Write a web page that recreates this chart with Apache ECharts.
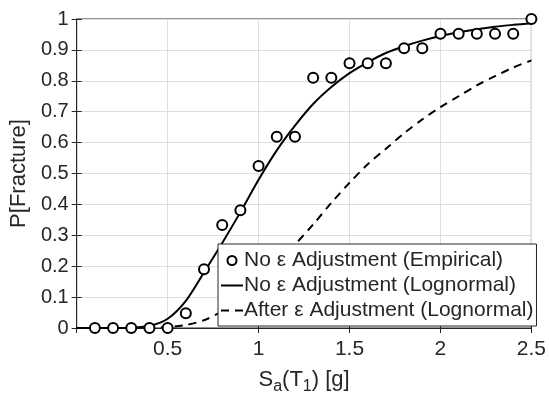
<!DOCTYPE html>
<html>
<head>
<meta charset="utf-8">
<script src="https://cdn.jsdelivr.net/npm/echarts@6/dist/echarts.min.js"></script>
<style>
  html, body { margin: 0; padding: 0; background: #fff; }
  #chart { width: 549px; height: 400px; }
</style>
</head>
<body>
<div id="chart"></div>
<script>
// 经验点 (Sa 与断裂概率)
const empX = [0.1, 0.2, 0.3, 0.4, 0.5, 0.6, 0.7, 0.8, 0.9, 1.0, 1.1, 1.2, 1.3,
  1.4, 1.5, 1.6, 1.7, 1.8, 1.9, 2.0, 2.1, 2.2, 2.3, 2.4, 2.5];
const empY = [0, 0, 0, 0, 0, 0.048, 0.19, 0.333, 0.381, 0.524, 0.619, 0.619, 0.81,
  0.81, 0.857, 0.857, 0.857, 0.905, 0.905, 0.952, 0.952, 0.952, 0.952, 0.952, 1.0];

// 曲线读数
const curveX = [0, 0.1, 0.2, 0.3, 0.4, 0.5, 0.6, 0.7, 0.8, 0.9, 1.0, 1.1, 1.2, 1.3,
  1.4, 1.5, 1.6, 1.7, 1.8, 1.9, 2.0, 2.1, 2.2, 2.3, 2.4, 2.5];
const noAdjY = [0, 0, 0, 0.001, 0.007, 0.03, 0.088, 0.18, 0.275, 0.375, 0.48, 0.575,
  0.655, 0.725, 0.78, 0.825, 0.86, 0.89, 0.912, 0.93, 0.945, 0.957, 0.967, 0.975, 0.981, 0.986];
const afterAdjY = [0, 0, 0, 0, 0, 0.003, 0.01, 0.025, 0.055, 0.1, 0.155, 0.21, 0.27,
  0.335, 0.405, 0.47, 0.53, 0.58, 0.63, 0.675, 0.715, 0.75, 0.785, 0.815, 0.843, 0.866];

const xTicks = [0.5, 1, 1.5, 2, 2.5];
const names = [
  'No ε Adjustment (Empirical)',
  'No ε Adjustment (Lognormal)',
  'After ε Adjustment (Lognormal)'
];

const txt = '#262626';
const font = 'Liberation Sans, Arial, sans-serif';
const gridColor = '#dedede';

const chart = echarts.init(document.getElementById('chart'));

const hiddenAxis = {
  axisLabel: { show: false },
  splitLine: { show: false },
  axisLine: { show: false },
  axisTick: { show: true, inside: true, length: 5, lineStyle: { color: txt } }
};

chart.setOption({
  animation: false,
  textStyle: { fontFamily: font, color: txt },
  grid: {
    left: 75, right: 14, top: 19, bottom: 70,
    show: true, borderColor: txt, borderWidth: 1, backgroundColor: 'transparent'
  },
  legend: {
    orient: 'vertical',
    left: 218,
    top: 244,
    backgroundColor: '#fff',
    borderColor: txt,
    borderWidth: 1,
    borderRadius: 0,
    padding: [6, 3, 5, 2],
    itemGap: 4,
    itemWidth: 22,
    itemHeight: 9,
    textStyle: { fontSize: 21, lineHeight: 20, color: txt, fontFamily: font, padding: [0, 0, 0, -4] },
    data: [
      { name: names[0], icon: 'emptyCircle', itemStyle: { color: '#000', borderColor: '#000', borderWidth: 2 } },
      { name: names[1], itemStyle: { opacity: 0 } },
      { name: names[2], itemStyle: { opacity: 0 } }
    ]
  },
  xAxis: [
    {
      type: 'value',
      min: 0, max: 2.5, interval: 0.5,
      name: '{m|S}{s|a}{m|(T}{s|1}{m|) [g]}',
      nameLocation: 'middle',
      nameGap: 36,
      nameTextStyle: {
        rich: {
          m: { fontSize: 22, color: txt, fontFamily: font },
          s: { fontSize: 16, color: txt, fontFamily: font, padding: [15, 0, 0, 0] }
        }
      },
      axisLine: { show: true, lineStyle: { color: txt } },
      axisTick: { inside: true, length: 5, lineStyle: { color: txt } },
      axisLabel: {
        fontSize: 21, color: txt, margin: 11,
        formatter: v => (xTicks.indexOf(v) >= 0 ? String(v) : '')
      },
      splitLine: { show: true, lineStyle: { color: gridColor } }
    },
    Object.assign({ type: 'value', position: 'top', min: 0, max: 2.5, interval: 0.5 }, hiddenAxis)
  ],
  yAxis: [
    {
      type: 'value',
      min: 0, max: 1, interval: 0.1,
      name: 'P[Fracture]',
      nameLocation: 'middle',
      nameGap: 40,
      nameTextStyle: { fontSize: 22, color: txt },
      axisLine: { show: true, lineStyle: { color: txt } },
      axisTick: { show: true, inside: true, length: 5, lineStyle: { color: txt } },
      axisLabel: {
        fontSize: 20, color: txt, margin: 8,
        formatter: v => (Math.round(v * 10) / 10).toString()
      },
      splitLine: { show: true, lineStyle: { color: gridColor } }
    },
    Object.assign({ type: 'value', position: 'right', min: 0, max: 1, interval: 0.1 }, hiddenAxis)
  ],
  series: [
    {
      name: names[0],
      type: 'scatter',
      symbol: 'emptyCircle',
      symbolSize: 10,
      itemStyle: { color: '#000', borderColor: '#000', borderWidth: 2, opacity: 1 },
      z: 4,
      data: empX.map((x, i) => [x, empY[i]])
    },
    {
      name: names[1],
      type: 'line',
      symbol: 'none',
      smooth: 0.3,
      lineStyle: { color: '#000', width: 2 },
      itemStyle: { color: '#000' },
      z: 3,
      data: curveX.map((x, i) => [x, noAdjY[i]])
    },
    {
      name: names[2],
      type: 'line',
      symbol: 'none',
      smooth: 0.3,
      lineStyle: { color: '#000', width: 2, type: [8, 6] },
      itemStyle: { color: '#000' },
      z: 3,
      data: curveX.map((x, i) => [x, afterAdjY[i]])
    }
  ]
});
</script>
</body>
</html>
